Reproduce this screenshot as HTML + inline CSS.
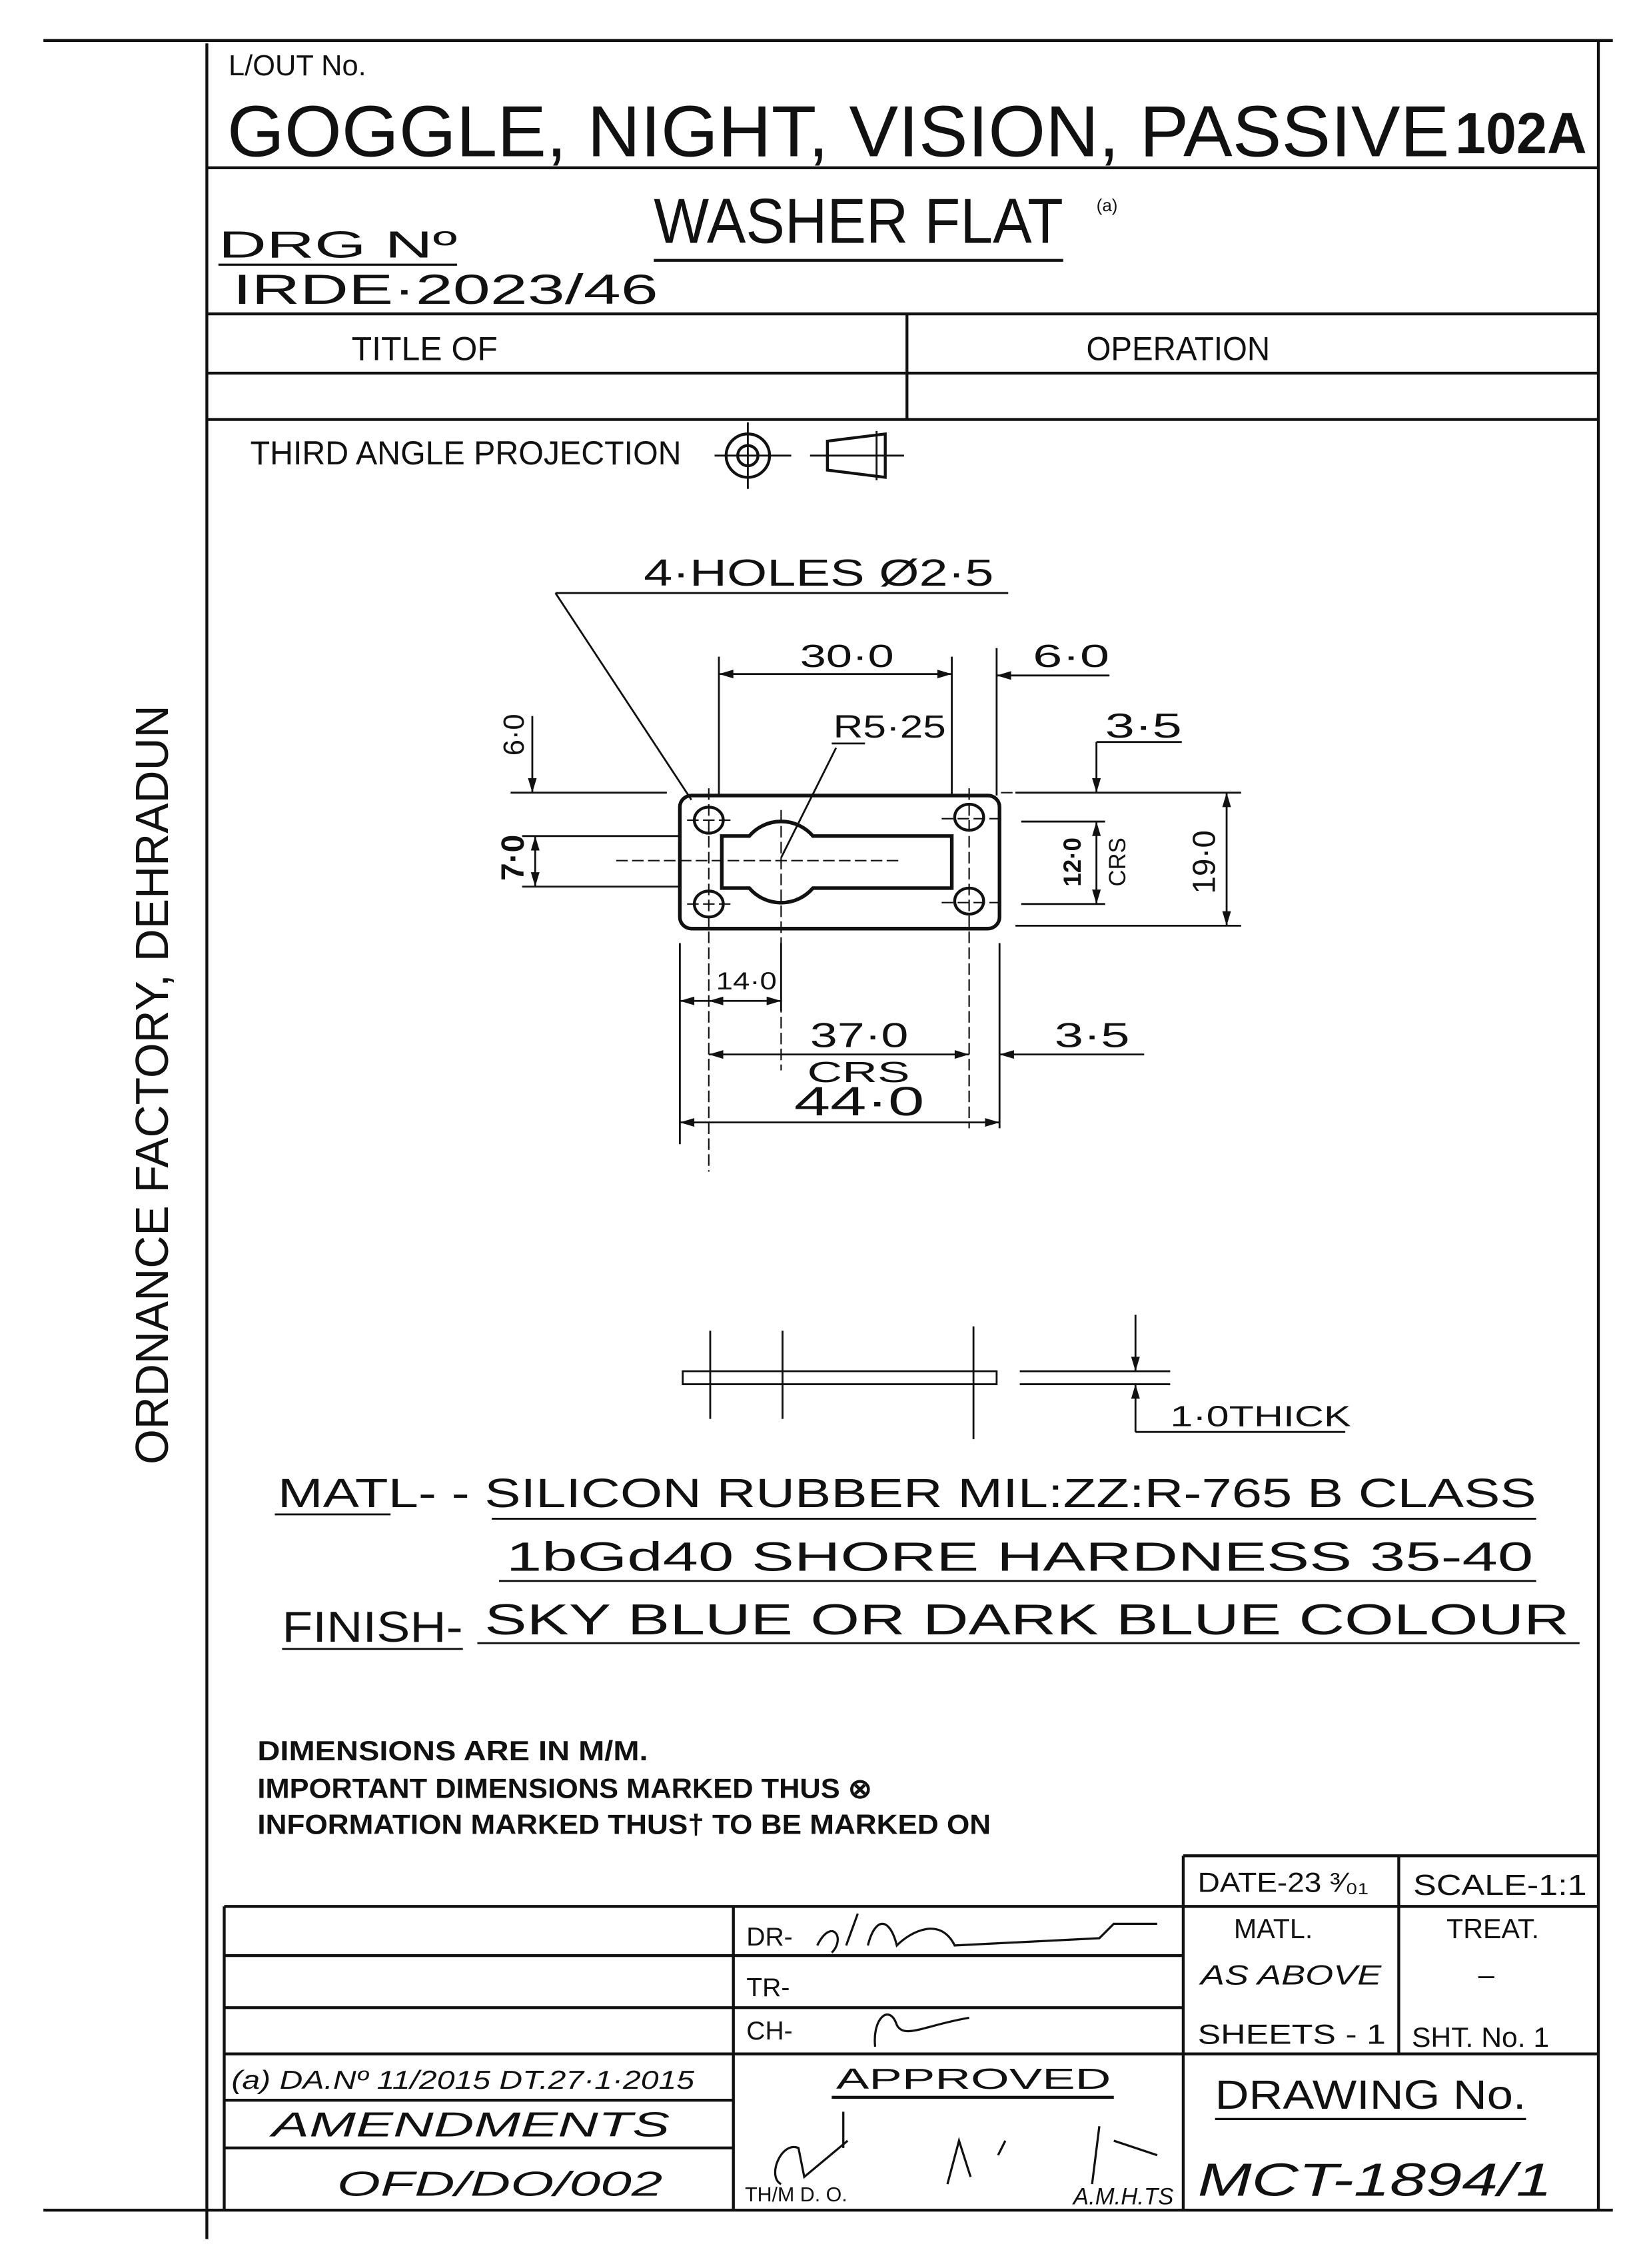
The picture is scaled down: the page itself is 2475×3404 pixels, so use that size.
<!DOCTYPE html>
<html><head><meta charset="utf-8"><style>
html,body{margin:0;padding:0;background:#fff;}
svg{display:block;}
text{font-family:"Liberation Sans",sans-serif;fill:#111;}
</style></head><body>
<svg width="2475" height="3404" viewBox="0 0 1140 1568" preserveAspectRatio="none" xmlns="http://www.w3.org/2000/svg">
<rect width="1140" height="1568" fill="#fff"/>
<g stroke="#111" stroke-width="2" fill="none">
<!-- frame -->
<line x1="30" y1="28" x2="1115" y2="28"/>
<line x1="143" y1="30" x2="143" y2="1548"/>
<line x1="1105" y1="28" x2="1105" y2="1528"/>
<line x1="143" y1="116" x2="1105" y2="116"/>
<line x1="143" y1="217" x2="1105" y2="217"/>
<line x1="143" y1="258" x2="1105" y2="258"/>
<line x1="143" y1="290" x2="1105" y2="290"/>
<line x1="627" y1="217" x2="627" y2="290"/>
<line x1="452" y1="180" x2="735" y2="180"/>
<line x1="151" y1="183" x2="316" y2="183" stroke-width="1.5"/>
<!-- projection symbol -->
<circle cx="517" cy="315" r="15"/><circle cx="517" cy="315" r="7"/>
<line x1="494" y1="315" x2="547" y2="315" stroke-width="1.3"/>
<line x1="517" y1="292" x2="517" y2="338" stroke-width="1.3"/>
<path d="M572 305 L612 300 L612 330 L572 325 Z"/>
<line x1="560" y1="315" x2="625" y2="315" stroke-width="1.3"/>
<line x1="606" y1="298" x2="606" y2="332" stroke-width="1.3"/>
<!-- plate -->
<rect x="470" y="550" width="221" height="92" rx="8" stroke-width="2.5"/>
<ellipse cx="490" cy="567" rx="10" ry="9"/><ellipse cx="490" cy="625" rx="10" ry="9"/>
<ellipse cx="670" cy="565" rx="10" ry="9"/><ellipse cx="670" cy="623" rx="10" ry="9"/>
<path d="M499 578 L518 578 A29 29 0 0 1 562 578 L658 578 L658 614 L562 614 A29 29 0 0 1 518 614 L499 614 Z" stroke-width="2.5"/>
<g stroke-width="1" stroke-dasharray="8 3">
<line x1="490" y1="545" x2="490" y2="810"/><line x1="670" y1="545" x2="670" y2="780"/>
<line x1="426" y1="595" x2="624" y2="595"/><line x1="540" y1="560" x2="540" y2="740"/>
<line x1="475" y1="567" x2="505" y2="567"/><line x1="475" y1="625" x2="505" y2="625"/>
<line x1="651" y1="566" x2="690" y2="566"/><line x1="651" y1="624" x2="690" y2="624"/>
<line x1="692" y1="548" x2="702" y2="548"/>
</g>
<g stroke-width="1.3">
<line x1="384" y1="410" x2="697" y2="410"/>
<line x1="384" y1="410" x2="478" y2="553"/>
<line x1="578" y1="517" x2="540" y2="593"/>
<line x1="575" y1="514" x2="598" y2="514"/>
<line x1="497" y1="454" x2="497" y2="550"/><line x1="658" y1="454" x2="658" y2="550"/>
<line x1="689" y1="448" x2="689" y2="550"/>
<line x1="497" y1="466" x2="658" y2="466"/>
<line x1="689" y1="467" x2="767" y2="467"/>
<line x1="353" y1="548" x2="461" y2="548"/><line x1="702" y1="548" x2="858" y2="548"/>
<line x1="368" y1="495" x2="368" y2="548"/>
<line x1="758" y1="513" x2="758" y2="548"/><line x1="758" y1="513" x2="817" y2="513"/>
<line x1="361" y1="578" x2="470" y2="578"/><line x1="361" y1="613" x2="470" y2="613"/>
<line x1="370" y1="578" x2="370" y2="613"/>
<line x1="706" y1="568" x2="764" y2="568"/><line x1="706" y1="625" x2="764" y2="625"/>
<line x1="758" y1="568" x2="758" y2="625"/>
<line x1="702" y1="640" x2="858" y2="640"/>
<line x1="848" y1="548" x2="848" y2="640"/>
<line x1="470" y1="652" x2="470" y2="791"/><line x1="691" y1="652" x2="691" y2="780"/>
<line x1="540" y1="652" x2="540" y2="699"/>
<line x1="470" y1="692" x2="540" y2="692"/>
<line x1="490" y1="729" x2="670" y2="729"/>
<line x1="691" y1="729" x2="791" y2="729"/>
<line x1="470" y1="776" x2="691" y2="776"/>
<rect x="472" y="948" width="217" height="9"/>
<line x1="705" y1="948" x2="809" y2="948"/><line x1="705" y1="957" x2="809" y2="957"/>
<line x1="491" y1="920" x2="491" y2="981"/><line x1="541" y1="920" x2="541" y2="981"/><line x1="673" y1="917" x2="673" y2="995"/>
<line x1="785" y1="909" x2="785" y2="948"/><line x1="785" y1="957" x2="785" y2="990"/>
<line x1="785" y1="990" x2="930" y2="990"/>
<line x1="190" y1="1047" x2="270" y2="1047"/>
<line x1="340" y1="1050" x2="1062" y2="1050"/>
<line x1="345" y1="1093" x2="1062" y2="1093"/>
<line x1="195" y1="1140" x2="320" y2="1140"/>
<line x1="330" y1="1136" x2="1092" y2="1136"/>
</g>
<g fill="#111" stroke="none">
<path d="M497 466 l10 -3 v6z"/><path d="M658 466 l-10 -3 v6z"/>
<path d="M689 467 l10 -3 v6z"/>
<path d="M368 548 l-3 -10 h6z"/><path d="M758 548 l-3 -10 h6z"/>
<path d="M370 578 l-3 10 h6z"/><path d="M370 613 l-3 -10 h6z"/>
<path d="M758 568 l-3 10 h6z"/><path d="M758 625 l-3 -10 h6z"/>
<path d="M848 548 l-3 10 h6z"/><path d="M848 640 l-3 -10 h6z"/>
<path d="M470 692 l10 -3 v6z"/><path d="M490 692 l10 -3 v6z"/><path d="M540 692 l-10 -3 v6z"/>
<path d="M490 729 l10 -3 v6z"/><path d="M670 729 l-10 -3 v6z"/><path d="M691 729 l10 -3 v6z"/>
<path d="M470 776 l10 -3 v6z"/><path d="M691 776 l-10 -3 v6z"/>
<path d="M785 948 l-3 -10 h6z"/><path d="M785 957 l-3 10 h6z"/>
</g>
<!-- title block -->
<g stroke="#111" stroke-width="2" fill="none">
<line x1="818" y1="1283" x2="1105" y2="1283"/>
<line x1="818" y1="1283" x2="818" y2="1528"/>
<line x1="967" y1="1283" x2="967" y2="1420"/>
<line x1="155" y1="1318" x2="1105" y2="1318"/>
<line x1="155" y1="1318" x2="155" y2="1528"/>
<line x1="507" y1="1318" x2="507" y2="1528"/>
<line x1="155" y1="1352" x2="818" y2="1352"/>
<line x1="155" y1="1388" x2="818" y2="1388"/>
<line x1="155" y1="1420" x2="1105" y2="1420"/>
<line x1="155" y1="1452" x2="507" y2="1452"/>
<line x1="155" y1="1485" x2="507" y2="1485"/>
<line x1="30" y1="1528" x2="1115" y2="1528"/>
<line x1="575" y1="1450" x2="770" y2="1450"/>
<line x1="840" y1="1465" x2="1055" y2="1465" stroke-width="1.5"/>
<path d="M565 1345 c10 -20 20 -5 10 5 M585 1345 l8 -22 M600 1345 c5 -20 15 -20 20 0 c10 -10 30 -20 40 0 l100 -5 l10 -10 l30 0" stroke-width="1.5"/>
<path d="M605 1415 c-2 -20 10 -30 15 -15 c5 10 20 0 50 -5" stroke-width="1.5"/>
<path d="M540 1510 c-10 -5 0 -30 12 -25 l4 20 l30 -25 M583 1460 l0 25" stroke-width="1.5"/>
<path d="M655 1510 l8 -30 l8 25 M690 1490 l5 -10 M760 1470 l-5 40 M770 1480 l30 10" stroke-width="1.5"/>
</g>
</g>
<!-- texts -->
<text x="158" y="52" font-size="20">L/OUT No.</text>
<text x="157" y="108" font-size="50" textLength="845" lengthAdjust="spacingAndGlyphs">GOGGLE, NIGHT, VISION, PASSIVE</text>
<text x="1006" y="106" font-size="40" font-weight="bold" textLength="91" lengthAdjust="spacingAndGlyphs">102A</text>
<text x="452" y="168" font-size="44" textLength="283" lengthAdjust="spacingAndGlyphs">WASHER FLAT</text>
<text x="758" y="146" font-size="12">(a)</text>
<text x="151" y="178" font-size="26" textLength="165" lengthAdjust="spacingAndGlyphs">DRG Nº</text>
<text x="161" y="210" font-size="29" textLength="294" lengthAdjust="spacingAndGlyphs">IRDE·2023/46</text>
<text x="243" y="249" font-size="23" textLength="101" lengthAdjust="spacingAndGlyphs">TITLE OF</text>
<text x="751" y="249" font-size="23" textLength="127" lengthAdjust="spacingAndGlyphs">OPERATION</text>
<text x="173" y="321" font-size="23" textLength="298" lengthAdjust="spacingAndGlyphs">THIRD ANGLE PROJECTION</text>
<text x="105" y="750" font-size="32" text-anchor="middle" transform="rotate(-90 105 750)" textLength="525" lengthAdjust="spacingAndGlyphs" dy="11">ORDNANCE FACTORY, DEHRADUN</text>
<text x="445" y="405" font-size="26" textLength="242" lengthAdjust="spacingAndGlyphs">4·HOLES Ø2·5</text>
<text x="553" y="461" font-size="22" textLength="65" lengthAdjust="spacingAndGlyphs">30·0</text>
<text x="714" y="461" font-size="22" textLength="53" lengthAdjust="spacingAndGlyphs">6·0</text>
<text x="576" y="510" font-size="22" textLength="78" lengthAdjust="spacingAndGlyphs">R5·25</text>
<text x="764" y="510" font-size="24" textLength="53" lengthAdjust="spacingAndGlyphs">3·5</text>
<text x="362" y="508" font-size="20" transform="rotate(-90 362 508)" text-anchor="middle">6·0</text>
<text x="362" y="593" font-size="22" font-weight="bold" transform="rotate(-90 362 593)" text-anchor="middle">7·0</text>
<text x="747" y="596" font-size="17" font-weight="bold" transform="rotate(-90 747 596)" text-anchor="middle">12·0</text>
<text x="778" y="596" font-size="16" transform="rotate(-90 778 596)" text-anchor="middle">CRS</text>
<text x="840" y="596" font-size="22" transform="rotate(-90 840 596)" text-anchor="middle">19·0</text>
<text x="495" y="684" font-size="17" textLength="42" lengthAdjust="spacingAndGlyphs">14·0</text>
<text x="560" y="724" font-size="24" textLength="68" lengthAdjust="spacingAndGlyphs">37·0</text>
<text x="558" y="748" font-size="20" textLength="71" lengthAdjust="spacingAndGlyphs">CRS</text>
<text x="729" y="724" font-size="24" textLength="52" lengthAdjust="spacingAndGlyphs">3·5</text>
<text x="549" y="771" font-size="28" textLength="90" lengthAdjust="spacingAndGlyphs">44·0</text>
<text x="809" y="986" font-size="20" textLength="125" lengthAdjust="spacingAndGlyphs">1·0THICK</text>
<text x="192" y="1042" font-size="28" textLength="870" lengthAdjust="spacingAndGlyphs">MATL- - SILICON RUBBER MIL:ZZ:R-765 B CLASS</text>
<text x="350" y="1086" font-size="28" textLength="710" lengthAdjust="spacingAndGlyphs">1bGd40 SHORE HARDNESS 35-40</text>
<text x="195" y="1135" font-size="30" textLength="125" lengthAdjust="spacingAndGlyphs">FINISH-</text>
<text x="335" y="1130" font-size="30" textLength="750" lengthAdjust="spacingAndGlyphs">SKY BLUE OR DARK BLUE COLOUR</text>
<text x="178" y="1217" font-size="19" font-weight="bold" textLength="270" lengthAdjust="spacingAndGlyphs">DIMENSIONS ARE IN M/M.</text>
<text x="178" y="1243" font-size="19" font-weight="bold" textLength="425" lengthAdjust="spacingAndGlyphs">IMPORTANT DIMENSIONS MARKED THUS ⊗</text>
<text x="178" y="1268" font-size="19" font-weight="bold" textLength="507" lengthAdjust="spacingAndGlyphs">INFORMATION MARKED THUS† TO BE MARKED ON</text>
<text x="828" y="1308" font-size="19" textLength="118" lengthAdjust="spacingAndGlyphs">DATE-23 ³⁄₀₁</text>
<text x="977" y="1310" font-size="20" textLength="120" lengthAdjust="spacingAndGlyphs">SCALE-1:1</text>
<text x="853" y="1340" font-size="19">MATL.</text>
<text x="1000" y="1340" font-size="19">TREAT.</text>
<text x="830" y="1372" font-size="19" font-style="italic" textLength="125" lengthAdjust="spacingAndGlyphs">AS ABOVE</text>
<text x="1022" y="1372" font-size="20">–</text>
<text x="516" y="1345" font-size="18">DR-</text>
<text x="516" y="1380" font-size="18">TR-</text>
<text x="516" y="1410" font-size="18">CH-</text>
<text x="828" y="1413" font-size="19" textLength="130" lengthAdjust="spacingAndGlyphs">SHEETS - 1</text>
<text x="976" y="1415" font-size="19" textLength="95" lengthAdjust="spacingAndGlyphs">SHT. No. 1</text>
<text x="160" y="1444" font-size="18" font-style="italic" textLength="320" lengthAdjust="spacingAndGlyphs">(a) DA.Nº 11/2015 DT.27·1·2015</text>
<text x="578" y="1444" font-size="20" textLength="190" lengthAdjust="spacingAndGlyphs">APPROVED</text>
<text x="840" y="1458" font-size="28" textLength="215" lengthAdjust="spacingAndGlyphs">DRAWING No.</text>
<text x="188" y="1477" font-size="24" font-style="italic" textLength="275" lengthAdjust="spacingAndGlyphs">AMENDMENTS</text>
<text x="233" y="1518" font-size="24" font-style="italic" textLength="225" lengthAdjust="spacingAndGlyphs">OFD/DO/002</text>
<text x="515" y="1522" font-size="14">TH/M D. O.</text>
<text x="742" y="1524" font-size="16" font-style="italic">A.M.H.TS</text>
<text x="828" y="1518" font-size="32" font-style="italic" textLength="245" lengthAdjust="spacingAndGlyphs">MCT-1894/1</text>
</svg>
</body></html>
